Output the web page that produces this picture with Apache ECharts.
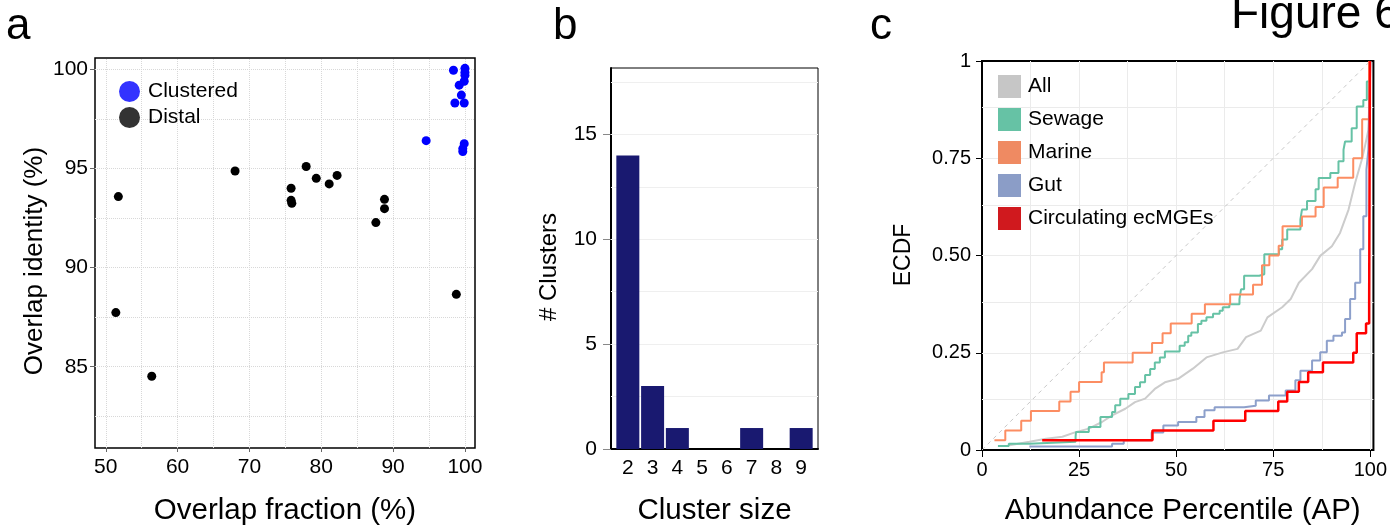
<!DOCTYPE html>
<html>
<head>
<meta charset="utf-8">
<title>Figure 6</title>
<script src="https://cdn.jsdelivr.net/npm/echarts@6/dist/echarts.min.js"></script>
<style>
  html, body { margin: 0; padding: 0; background: #fff; }
  #main { width: 1390px; height: 531px; }
</style>
</head>
<body>
<div id="main"></div>
<script>
var FONT = '"Liberation Sans", Arial, sans-serif';

// a: overlap fraction (%) vs overlap identity (%)
var clusteredFrac  = [94.6, 98.4, 100.0, 100.0, 99.9, 99.2, 99.5, 98.6, 99.9, 100.0, 99.7, 99.9, 99.7];
var clusteredIdent = [96.4, 99.95, 100.05, 99.7, 99.4, 99.2, 98.7, 98.3, 98.3, 99.85, 96.0, 96.25, 95.85];
var distalFrac  = [51.75, 51.4, 56.4, 68.0, 75.8, 75.8, 75.9, 77.9, 79.3, 81.1, 82.2, 87.6, 88.8, 88.8, 98.8];
var distalIdent = [93.58, 87.73, 84.52, 94.87, 94.0, 93.39, 93.24, 95.1, 94.5, 94.22, 94.65, 92.27, 93.44, 92.97, 88.65];
var aFracTicks  = [50, 60, 70, 80, 90, 100];
var aIdentTicks = [85, 90, 95, 100];
var aFracGrid   = [50, 55, 60, 65, 70, 75, 80, 85, 90, 95, 100];
var aIdentGrid  = [82.5, 85, 87.5, 90, 92.5, 95, 97.5, 100];

// b: cluster size histogram
var clusterSizes  = [2, 3, 4, 5, 6, 7, 8, 9];
var clusterCounts = [14, 3, 1, 0, 0, 1, 0, 1];
var bCountTicks = [0, 5, 10, 15];
var bCountGrid  = [2.5, 5, 7.5, 10, 12.5, 15, 17.5];

// c: ECDF of abundance percentile
var allAP   = [7.1, 12.2, 16.5, 20.7, 24.1, 27.5, 30.9, 33.5, 36.9, 39.4, 42.0, 44.5, 47.1, 50.5, 54.3, 57.8, 62.0, 65.8, 68.0, 71.8, 73.5, 77.3, 79.5, 81.6, 85.0, 87.1, 90.1, 92.2, 94.4, 96.1, 97.8, 98.6, 99.5, 99.9, 100];
var allECDF = [0.012, 0.021, 0.029, 0.034, 0.046, 0.055, 0.072, 0.089, 0.106, 0.123, 0.132, 0.157, 0.174, 0.183, 0.209, 0.238, 0.251, 0.260, 0.290, 0.307, 0.341, 0.367, 0.388, 0.430, 0.465, 0.499, 0.524, 0.558, 0.618, 0.687, 0.746, 0.780, 0.823, 0.943, 1];
var sewageAP   = [4.1, 6.9, 12.2, 24.1, 24.2, 27.5, 30.5, 33.5, 34.3, 35.6, 37.7, 39.4, 40.7, 42.0, 43.3, 44.5, 45.8, 47.1, 50.9, 52.2, 53.1, 53.9, 55.6, 56.5, 57.8, 59.5, 61.2, 62.0, 63.7, 66.3, 66.7, 67.5, 71.4, 72.7, 76.5, 77.3, 78.6, 82.0, 82.4, 83.7, 85.9, 86.7, 89.7, 91.8, 93.1, 93.5, 95.2, 96.5, 98.2, 99.1, 99.9, 100];
var sewageECDF = [0.010, 0.016, 0.021, 0.034, 0.046, 0.059, 0.085, 0.098, 0.115, 0.132, 0.144, 0.162, 0.174, 0.193, 0.208, 0.225, 0.238, 0.253, 0.268, 0.277, 0.294, 0.302, 0.324, 0.332, 0.341, 0.350, 0.358, 0.367, 0.375, 0.388, 0.413, 0.448, 0.452, 0.503, 0.516, 0.541, 0.567, 0.593, 0.618, 0.640, 0.670, 0.699, 0.712, 0.742, 0.772, 0.793, 0.827, 0.883, 0.900, 0.947, 0.994, 1];
var marineAP   = [3.2, 6.0, 10.1, 12.6, 19.9, 22.8, 25.0, 30.8, 31.4, 38.8, 43.8, 46.5, 48.6, 54.0, 57.4, 63.9, 69.8, 72.1, 74.0, 76.4, 77.4, 82.4, 85.9, 88.0, 91.6, 95.6, 97.9, 99.7];
var marineECDF = [0.025, 0.05, 0.075, 0.10, 0.125, 0.15, 0.175, 0.20, 0.225, 0.25, 0.275, 0.30, 0.325, 0.35, 0.375, 0.40, 0.425, 0.475, 0.50, 0.525, 0.575, 0.60, 0.625, 0.675, 0.70, 0.75, 0.85, 1];
var gutAP   = [12.2, 33.5, 36.5, 43.7, 46.7, 50.5, 55.2, 57.3, 59.9, 67.5, 70.5, 73.9, 78.2, 80.7, 82.0, 85.0, 87.1, 88.8, 90.5, 92.7, 93.5, 94.8, 96.1, 97.4, 98.2, 99.0, 99.5, 99.9, 100];
var gutECDF = [0.009, 0.016, 0.025, 0.045, 0.063, 0.072, 0.085, 0.102, 0.110, 0.114, 0.127, 0.140, 0.153, 0.179, 0.204, 0.230, 0.251, 0.281, 0.294, 0.302, 0.337, 0.388, 0.430, 0.516, 0.601, 0.721, 0.772, 0.943, 1];
var circAP   = [15.5, 43.9, 59.6, 67.8, 76.3, 78.6, 81.6, 84.0, 87.8, 95.6, 96.5, 98.9, 99.7, 99.9];
var circECDF = [0.025, 0.05, 0.075, 0.10, 0.125, 0.15, 0.175, 0.20, 0.225, 0.25, 0.30, 0.325, 0.375, 1];
var cAPTicks   = [0, 25, 50, 75, 100];
var cECDFTicks = [0, 0.25, 0.5, 0.75, 1];
var cAPGrid    = [12.5, 25, 37.5, 50, 62.5, 75, 87.5, 100];
var cECDFGrid  = [0.125, 0.25, 0.375, 0.5, 0.625, 0.75, 0.875];
var diagAP   = [0, 100];
var diagECDF = [0, 1];

function zip(xs, ys) {
    var out = [];
    for (var i = 0; i < xs.length; i++) out.push([xs[i], ys[i]]);
    return out;
}

// 网格线用 markLine 画，轴本身只在 customValues 处出刻度
function guideLines(idx, xs, ys, style) {
    var data = [];
    xs.forEach(function(v) { data.push({ xAxis: v }); });
    ys.forEach(function(v) { data.push({ yAxis: v }); });
    return {
        type: 'line', xAxisIndex: idx, yAxisIndex: idx, data: [], silent: true,
        markLine: { silent: true, z: 1, symbol: ['none', 'none'], label: { show: false },
                    lineStyle: style, emphasis: { disabled: true }, data: data }
    };
}

function ecdfLine(name, xs, ys, color, width, idx) {
    return {
        name: name, type: 'line', xAxisIndex: idx, yAxisIndex: idx,
        data: zip(xs, ys), step: 'end', showSymbol: false, z: 3,
        lineStyle: { color: color, width: width }, itemStyle: { color: color }
    };
}

// 文字：竖排轴标题
function label(txt, x, y, size, rot) {
    return {
        type: 'text', x: x, y: y, rotation: rot || 0,
        style: { text: txt, fontSize: size, fontFamily: FONT, fill: '#000', align: 'center', verticalAlign: 'middle' }
    };
}

var tickLabel = { color: '#000', fontFamily: FONT };
var titleStyle = { color: '#000', fontFamily: FONT };

var option = {
    animation: false,
    textStyle: { fontFamily: FONT },
    graphic: [
        { type: 'text', left: 6,    top: 5,  style: { text: 'a', fontSize: 44, fontFamily: FONT, fill: '#000' } },
        { type: 'text', left: 553,  top: 5,  style: { text: 'b', fontSize: 44, fontFamily: FONT, fill: '#000' } },
        { type: 'text', left: 870,  top: 5,  style: { text: 'c', fontSize: 44, fontFamily: FONT, fill: '#000' } },
        { type: 'text', left: 1231, top: -8, style: { text: 'Figure 6', fontSize: 46, fontFamily: FONT, fill: '#000' } },
        label('Overlap identity (%)', 35, 261, 26, Math.PI / 2),
        label('# Clusters', 549, 267, 24, Math.PI / 2),
        label('ECDF', 904, 255, 23, Math.PI / 2)
    ],
    grid: [
        { left: 95,  top: 58, width: 380,   height: 390, show: true, borderColor: '#000', borderWidth: 1.5 },
        { left: 611, top: 68, width: 207,   height: 381, show: true, borderColor: '#000', borderWidth: 1 },
        { left: 982, top: 61, width: 394.5, height: 389, show: true, borderColor: '#000', borderWidth: 2 }
    ],
    legend: [
        {
            data: [ { name: 'Clustered', itemStyle: { color: '#3333ff' } },
                    { name: 'Distal',    itemStyle: { color: '#333333' } } ],
            orient: 'vertical', left: 119, top: 81, padding: 0, icon: 'circle',
            itemWidth: 21, itemHeight: 21, itemGap: 5, selectedMode: false,
            textStyle: { fontSize: 21, color: '#000', fontFamily: FONT, padding: [0, 0, 0, 3] }
        },
        {
            data: [ { name: 'All',    itemStyle: { color: '#c6c6c6' } },
                    { name: 'Sewage', itemStyle: { color: '#66c2a5' } },
                    { name: 'Marine', itemStyle: { color: '#ef8a62' } },
                    { name: 'Gut',    itemStyle: { color: '#8b9dc7' } },
                    { name: 'Circulating ecMGEs', itemStyle: { color: '#d0191e' } } ],
            orient: 'vertical', left: 998, top: 75, padding: 0, icon: 'rect',
            itemWidth: 23, itemHeight: 23, itemGap: 10, selectedMode: false,
            textStyle: { fontSize: 21, color: '#000', fontFamily: FONT, padding: [0, 0, 0, 2] }
        }
    ],
    xAxis: [
        {
            gridIndex: 0, type: 'value', min: 48.5, max: 101.4,
            axisLine: { show: false },
            axisTick: { customValues: aFracTicks, length: 4, lineStyle: { color: '#666' } },
            axisLabel: Object.assign({ customValues: aFracTicks, fontSize: 21, margin: 9 }, tickLabel),
            splitLine: { show: false },
            name: 'Overlap fraction (%)', nameLocation: 'middle', nameGap: 48,
            nameTextStyle: Object.assign({ fontSize: 29.5 }, titleStyle)
        },
        {
            gridIndex: 1, type: 'value', min: 1.32, max: 9.68,
            axisLine: { show: true, onZero: false, lineStyle: { color: '#000', width: 2 } },
            axisTick: { show: false },
            axisLabel: Object.assign({ customValues: clusterSizes, fontSize: 21, margin: 9 }, tickLabel),
            splitLine: { show: false },
            name: 'Cluster size', nameLocation: 'middle', nameGap: 47,
            nameTextStyle: Object.assign({ fontSize: 29.5 }, titleStyle)
        },
        {
            gridIndex: 2, type: 'value', min: 0, max: 100.8,
            axisLine: { show: false },
            axisTick: { customValues: cAPTicks, length: 7, lineStyle: { color: '#000' } },
            axisLabel: Object.assign({ customValues: cAPTicks, fontSize: 20, margin: 10 }, tickLabel),
            splitLine: { show: false },
            name: 'Abundance Percentile (AP)', nameLocation: 'middle', nameGap: 46,
            nameTextStyle: Object.assign({ fontSize: 29.5, padding: [0, 0, 0, 10] }, titleStyle)
        }
    ],
    yAxis: [
        {
            gridIndex: 0, type: 'value', min: 80.9, max: 100.57,
            axisLine: { show: false },
            axisTick: { customValues: aIdentTicks, length: 5, lineStyle: { color: '#666' } },
            axisLabel: Object.assign({ customValues: aIdentTicks, fontSize: 21, margin: 7 }, tickLabel),
            splitLine: { show: false }
        },
        {
            gridIndex: 1, type: 'value', min: 0, max: 18.17,
            axisLine: { show: true, onZero: false, lineStyle: { color: '#000', width: 2 } },
            axisTick: { customValues: bCountTicks, length: 8, lineStyle: { color: '#888' } },
            axisLabel: Object.assign({ customValues: bCountTicks, fontSize: 21, margin: 14 }, tickLabel),
            splitLine: { show: false }
        },
        {
            gridIndex: 2, type: 'value', min: 0, max: 1,
            axisLine: { show: false },
            axisTick: { customValues: cECDFTicks, length: 6, lineStyle: { color: '#000' } },
            axisLabel: Object.assign({
                customValues: cECDFTicks, fontSize: 20, margin: 11,
                formatter: function(v) { return (v === 0 || v === 1) ? String(v) : v.toFixed(2); }
            }, tickLabel),
            splitLine: { show: false }
        }
    ],
    series: [
        guideLines(0, aFracGrid, aIdentGrid, { color: '#d8d8d8', width: 1, type: 'dotted' }),
        guideLines(1, [], bCountGrid, { color: '#efefef', width: 1, type: 'solid' }),
        guideLines(2, cAPGrid, cECDFGrid, { color: '#ebebeb', width: 1, type: 'solid' }),

        { name: 'Distal', type: 'scatter', xAxisIndex: 0, yAxisIndex: 0, symbolSize: 9, z: 3,
          itemStyle: { color: '#000', opacity: 1 }, data: zip(distalFrac, distalIdent) },
        { name: 'Clustered', type: 'scatter', xAxisIndex: 0, yAxisIndex: 0, symbolSize: 9, z: 3,
          itemStyle: { color: '#0000ff', opacity: 1 }, data: zip(clusteredFrac, clusteredIdent) },

        { name: 'Clusters', type: 'bar', xAxisIndex: 1, yAxisIndex: 1, barWidth: 23, z: 3,
          itemStyle: { color: '#191970' }, data: zip(clusterSizes, clusterCounts) },

        { name: 'diag', type: 'line', xAxisIndex: 2, yAxisIndex: 2, showSymbol: false, z: 2,
          data: zip(diagAP, diagECDF), lineStyle: { color: '#c8c8c8', width: 1, type: [4, 4] } },
        { name: 'All', type: 'line', xAxisIndex: 2, yAxisIndex: 2, showSymbol: false, z: 3,
          data: zip(allAP, allECDF), lineStyle: { color: '#cccccc', width: 2 }, itemStyle: { color: '#cccccc' } },
        ecdfLine('Sewage', sewageAP, sewageECDF, '#66c2a5', 2, 2),
        ecdfLine('Marine', marineAP, marineECDF, '#fc8d62', 2, 2),
        ecdfLine('Gut', gutAP, gutECDF, '#8da0cb', 2, 2),
        ecdfLine('Circulating ecMGEs', circAP, circECDF, '#ff0000', 2.5, 2)
    ]
};

var chart = echarts.init(document.getElementById('main'));
chart.setOption(option);
</script>
</body>
</html>
